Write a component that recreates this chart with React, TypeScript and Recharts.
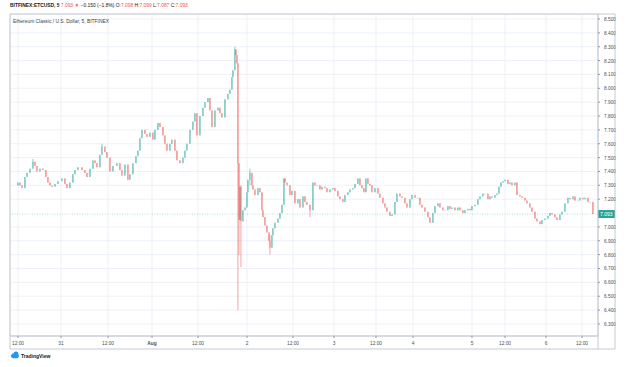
import React from "react";
import { ComposedChart, Bar, XAxis, YAxis, CartesianGrid, ReferenceLine } from "recharts";

// x position of each sampled candle (chart slot index), and its closing price
const slots = [
  8, 10, 12, 15, 17, 20, 23, 25, 27, 30, 33, 36, 38, 40, 42, 45, 48, 52, 55, 57,
  60, 63, 65, 68, 72, 75, 77, 80, 83, 85, 87, 90, 92, 95, 97, 100, 103, 107, 110, 112,
  115, 118, 120, 123, 126, 128, 130, 132, 135, 137, 140, 143, 145, 148, 150, 153, 155, 157, 160, 162,
  165, 167, 170, 173, 175, 177, 180, 183, 185, 187, 190, 193, 195, 198, 200, 202, 205, 208, 210, 212,
  215, 218, 220, 222, 223, 225, 226, 227, 228, 229, 230, 231, 233, 235, 237, 238, 240, 242, 243, 245,
  248, 250, 252, 253, 255, 257, 259, 260, 262, 263, 265, 268, 270, 272, 274, 275, 277, 280, 282, 285,
  288, 290, 293, 295, 297, 300, 303, 305, 307, 310, 312, 315, 317, 320, 323, 325, 328, 330, 333, 335,
  338, 340, 343, 345, 348, 350, 352, 354, 356, 358, 360, 362, 365, 368, 370, 373, 375, 377, 380, 382,
  385, 387, 390, 392, 395, 397, 400, 402, 405, 408, 410, 412, 415, 418, 420, 423, 425, 428, 430, 433,
  435, 438, 440, 442, 445, 448, 450, 453, 455, 458, 460, 462, 465, 468, 470, 473, 475, 478, 480, 482,
  485, 487, 489, 491, 493, 495, 498, 500, 502, 505, 507, 510, 512, 515, 517, 520, 522, 525, 527, 530,
  532, 535, 538, 540, 542, 545, 547, 550, 552, 555, 558, 560, 563, 565, 568, 570, 573, 575, 578, 580,
  583,
];

const closes = [
  7.32, 7.30, 7.28, 7.36, 7.39, 7.42, 7.47, 7.44, 7.40, 7.42, 7.41, 7.36, 7.32, 7.30, 7.29, 7.31, 7.33, 7.35, 7.31, 7.28,
  7.32, 7.38, 7.41, 7.43, 7.41, 7.39, 7.36, 7.42, 7.48, 7.46, 7.43, 7.52, 7.58, 7.54, 7.50, 7.40, 7.44, 7.46, 7.41, 7.37,
  7.45, 7.34, 7.38, 7.46, 7.51, 7.55, 7.64, 7.70, 7.67, 7.65, 7.68, 7.63, 7.70, 7.75, 7.72, 7.66, 7.60, 7.55, 7.60, 7.63,
  7.55, 7.48, 7.46, 7.50, 7.55, 7.60, 7.70, 7.76, 7.82, 7.66, 7.80, 7.86, 7.90, 7.93, 7.84, 7.72, 7.84, 7.86, 7.82, 7.79,
  7.92, 7.96, 7.99, 8.08, 8.13, 8.28, 8.24, 8.18, 7.46, 7.05, 7.29, 7.04, 7.12, 7.14, 7.25, 7.34, 7.39, 7.30, 7.27, 7.23,
  7.28, 7.25, 7.12, 7.07, 7.01, 6.96, 6.90, 6.85, 6.94, 6.99, 7.03, 7.06, 7.10, 7.16, 7.35, 7.32, 7.30, 7.23, 7.26, 7.17,
  7.20, 7.14, 7.22, 7.18, 7.16, 7.12, 7.32, 7.30, 7.30, 7.27, 7.29, 7.28, 7.25, 7.27, 7.28, 7.26, 7.22, 7.20, 7.18, 7.23,
  7.25, 7.27, 7.28, 7.31, 7.35, 7.30, 7.28, 7.25, 7.35, 7.31, 7.30, 7.25, 7.28, 7.24, 7.21, 7.17, 7.14, 7.11, 7.08, 7.09,
  7.18, 7.24, 7.22, 7.21, 7.17, 7.14, 7.20, 7.23, 7.21, 7.21, 7.16, 7.14, 7.11, 7.07, 7.03, 7.10, 7.15, 7.17, 7.14, 7.12,
  7.12, 7.15, 7.13, 7.14, 7.12, 7.14, 7.12, 7.10, 7.12, 7.13, 7.12, 7.15, 7.16, 7.20, 7.22, 7.24, 7.24, 7.20, 7.22, 7.21,
  7.23, 7.24, 7.29, 7.32, 7.33, 7.34, 7.31, 7.32, 7.30, 7.32, 7.23, 7.22, 7.21, 7.19, 7.17, 7.14, 7.11, 7.06, 7.04, 7.02,
  7.05, 7.06, 7.08, 7.10, 7.09, 7.07, 7.05, 7.09, 7.11, 7.17, 7.21, 7.20, 7.22, 7.19, 7.19, 7.21, 7.20, 7.21, 7.18, 7.18,
  7.093,
];

const firstOpen = 7.3;

// notable wick extremes
const wickSlots = [23, 92, 225, 228, 229, 231, 240, 260, 300];
const wickHighs = [7.49, 7.6, 8.3, 8.18, 7.46, 7.3, 7.42, 6.94, 7.14];
const wickLows = [7.44, 7.52, 8.22, 6.4, 6.8, 6.71, 7.3, 6.8, 7.07];

const xTickSlots = [8, 51, 98, 142, 188, 237, 283, 324, 366, 403, 462, 495, 536, 572];
const xTickLabels = ["12:00", "31", "12:00", "Aug", "12:00", "2", "12:00", "3", "12:00", "4", "5", "12:00", "6", "12:00"];

// 7.100 is covered by the last-price tag in the reference
const yTicks = [6.3, 6.4, 6.5, 6.6, 6.7, 6.8, 6.9, 7.0, 7.2, 7.3, 7.4, 7.5, 7.6, 7.7, 7.8, 7.9, 8.0, 8.1, 8.2, 8.3, 8.4, 8.5];

const lastPrice = 7.093;

const UP = "#26a69a";
const DOWN = "#ef5350";

const candles = slots.map((s, i) => {
  const open = i === 0 ? firstOpen : closes[i - 1];
  const close = closes[i];
  let high = Math.max(open, close);
  let low = Math.min(open, close);
  const w = wickSlots.indexOf(s);
  if (w >= 0) {
    high = Math.max(high, wickHighs[w]);
    low = Math.min(low, wickLows[w]);
  }
  return { slot: s, open, close, high, low, range: [low, high] };
});

const Candle = (props: any) => {
  const { x, y, width, height, payload } = props;
  if (!payload) return null;
  const { open, close, high, low } = payload;
  const color = close >= open ? UP : DOWN;
  const h = Math.abs(height);
  const top = Math.min(y, y + height);
  const ratio = high === low ? 0 : h / (high - low);
  const cx = x + width / 2;
  const yo = top + (high - open) * ratio;
  const yc = top + (high - close) * ratio;
  const bt = Math.min(yo, yc);
  const bh = Math.max(0.8, Math.abs(yo - yc));
  return (
    <g opacity={0.75}>
      <line x1={cx} x2={cx} y1={top} y2={top + h} stroke={color} strokeWidth={0.7} />
      <rect x={x} y={bt} width={width} height={bh} fill={color} />
    </g>
  );
};

const PriceTag = (props: any) => {
  const vb = props.viewBox || {};
  const x = (vb.x || 0) + (vb.width || 0);
  const y = vb.y || 0;
  return (
    <g>
      <rect x={x} y={y - 4} width={17} height={8} fill={UP} />
      <text x={x + 2} y={y + 2} fontSize={5} fill="#fff" fontFamily="Liberation Sans, Arial, sans-serif">
        {lastPrice.toFixed(3)}
      </text>
    </g>
  );
};

const YTick = (props: any) => {
  const { x, y, payload } = props;
  return (
    <text x={x + 2} y={y + 2} fontSize={4.8} fill="#4a4e5a" fontFamily="Liberation Sans, Arial, sans-serif">
      {Number(payload.value).toFixed(3)}
    </text>
  );
};

const XTick = (props: any) => {
  const { x, y, payload } = props;
  const label = xTickLabels[xTickSlots.indexOf(payload.value)] ?? "";
  return (
    <text
      x={x}
      y={y + 5}
      fontSize={4.8}
      textAnchor="middle"
      fill="#4a4e5a"
      fontWeight={label === "Aug" ? 700 : 400}
      fontFamily="Liberation Sans, Arial, sans-serif"
    >
      {label}
    </text>
  );
};

const font = "Liberation Sans, Arial, sans-serif";

export default function App() {
  return (
    <div style={{ position: "absolute", left: 0, top: 0, width: 629, height: 367, background: "#fff", overflow: "hidden" }}>
      <ComposedChart
        width={629}
        height={367}
        data={candles}
        margin={{ top: 14, right: 14, bottom: 18, left: 10 }}
      >
        <CartesianGrid stroke="#e9eef6" strokeWidth={0.8} />
        <XAxis
          dataKey="slot"
          type="number"
          domain={[0, 588]}
          ticks={xTickSlots}
          interval={0}
          height={13}
          tick={<XTick />}
          tickSize={2}
          tickLine={{ stroke: "#9598a1" }}
          axisLine={{ stroke: "#b8bcc6" }}
          allowDataOverflow
        />
        <YAxis
          orientation="right"
          type="number"
          domain={[6.213, 8.536]}
          ticks={yTicks}
          interval={0}
          width={17}
          tick={<YTick />}
          tickSize={2}
          tickLine={{ stroke: "#9598a1" }}
          axisLine={{ stroke: "#b8bcc6" }}
          allowDataOverflow
        />
        <ReferenceLine
          y={lastPrice}
          stroke={UP}
          strokeOpacity={0.45}
          strokeDasharray="1 1.5"
          strokeWidth={0.8}
          label={<PriceTag />}
          ifOverflow="visible"
        />
        <Bar dataKey="range" barSize={1.3} shape={<Candle />} isAnimationActive={false} />
      </ComposedChart>

      <svg width={629} height={367} style={{ position: "absolute", left: 0, top: 0, pointerEvents: "none" }}>
        <g stroke="#b8bcc6" strokeWidth={0.8} fill="none">
          <line x1={10} y1={14} x2={615} y2={14} />
          <line x1={10} y1={14} x2={10} y2={349} />
          <line x1={10} y1={349} x2={615} y2={349} />
          <line x1={615} y1={14} x2={615} y2={349} />
          <line x1={598} y1={336} x2={598} y2={349} />
        </g>
        <g transform="translate(11,351)" fill="#2196f3">
          <ellipse cx={4} cy={5} rx={4} ry={2.3} />
          <circle cx={5} cy={3} r={2.4} />
          <circle cx={2.5} cy={4} r={1.8} />
        </g>
      </svg>

      <div
        style={{
          position: "absolute",
          left: 10,
          top: 3,
          fontFamily: font,
          fontSize: 4.9,
          lineHeight: "6px",
          whiteSpace: "nowrap",
          color: "#131722",
        }}
      >
        <span style={{ fontWeight: 700 }}>BITFINEX:ETCUSD, 5</span>{" "}
        <span style={{ color: DOWN }}>7.093 ▼</span> −0.150 (−1.8%) O:<span style={{ color: DOWN }}>7.098</span> H:
        <span style={{ color: DOWN }}>7.099</span> L:<span style={{ color: DOWN }}>7.087</span> C:
        <span style={{ color: DOWN }}>7.093</span>
      </div>

      <div
        style={{
          position: "absolute",
          left: 13,
          top: 19,
          fontFamily: font,
          fontSize: 4.9,
          lineHeight: "6px",
          whiteSpace: "nowrap",
          color: "#3b3f4a",
        }}
      >
        Ethereum Classic / U.S. Dollar, 5, BITFINEX
      </div>

      <div
        style={{
          position: "absolute",
          left: 21,
          top: 353,
          fontFamily: font,
          fontSize: 5,
          lineHeight: "6px",
          whiteSpace: "nowrap",
          color: "#131722",
          fontWeight: 700,
        }}
      >
        TradingView
      </div>
    </div>
  );
}
